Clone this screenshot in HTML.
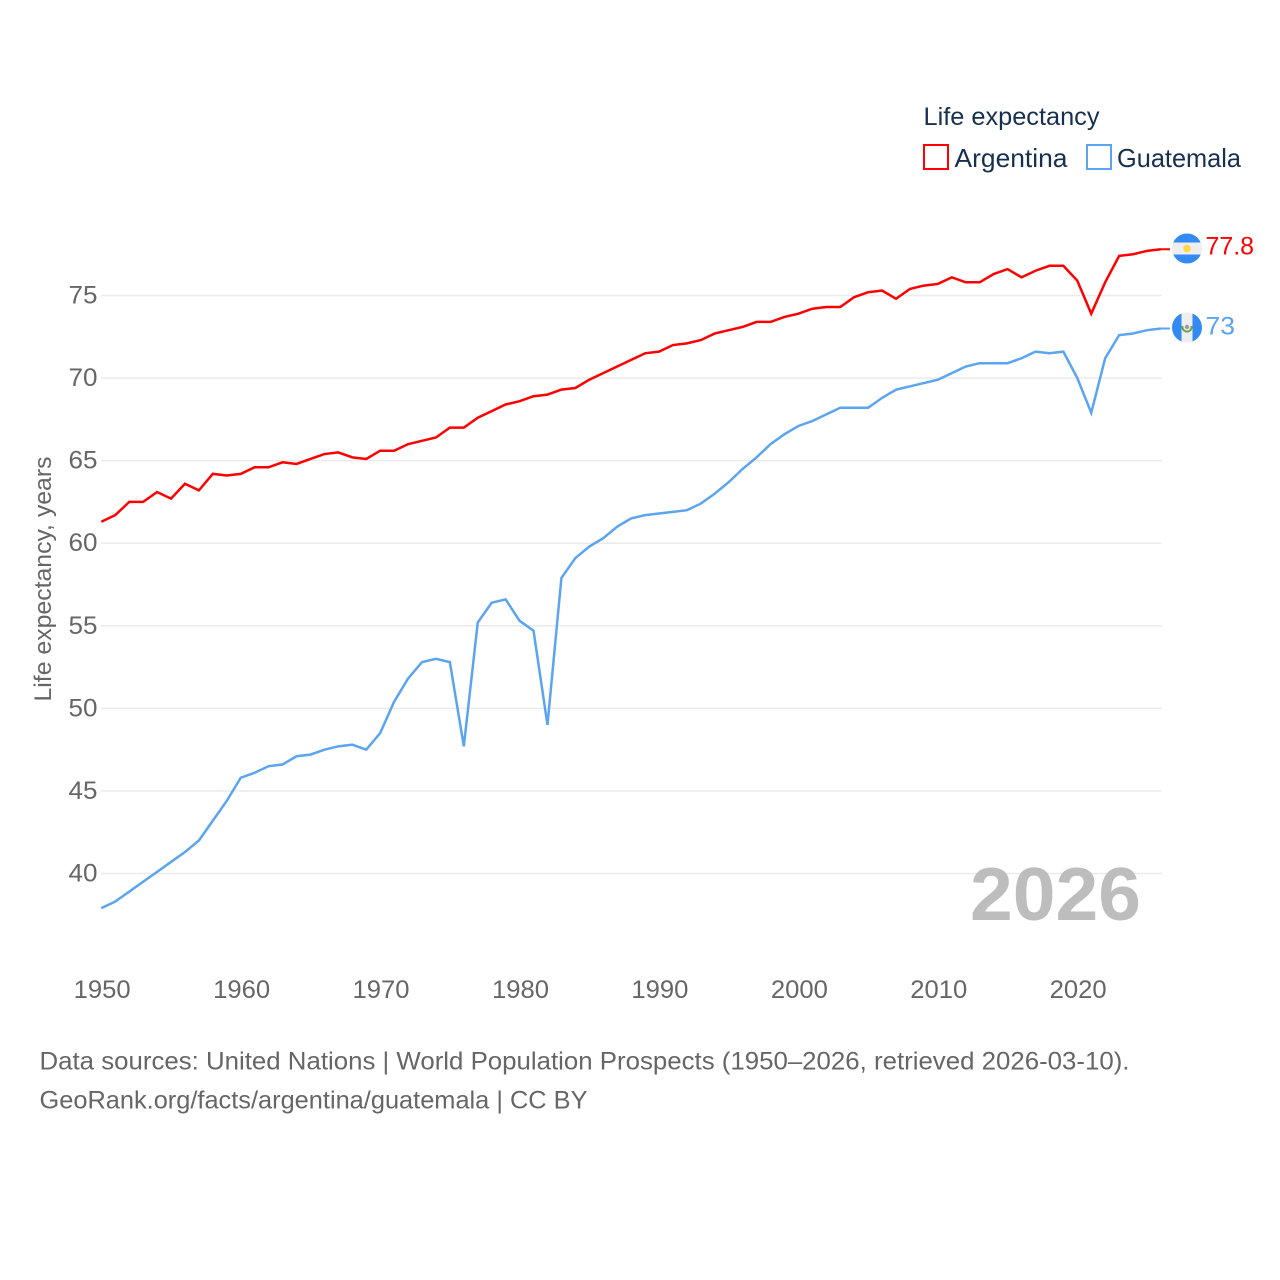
<!DOCTYPE html>
<html lang="en">
<head>
<meta charset="utf-8">
<title>Life expectancy: Argentina vs Guatemala</title>
<style>
html,body{margin:0;padding:0;background:#fff;}
svg{display:block;}
text{font-family:"Liberation Sans",sans-serif;}
</style>
</head>
<body>
<svg id="chart" xmlns="http://www.w3.org/2000/svg" width="1280" height="1280" viewBox="0 0 1280 1280">
  <rect x="0" y="0" width="1280" height="1280" fill="#ffffff"/>
  <g id="grid"></g>
  <g id="yticks"></g>
  <g id="xticks"></g>
  <text transform="translate(51,579) rotate(-90)" text-anchor="middle" font-size="24" fill="#666666" textLength="245" lengthAdjust="spacingAndGlyphs">Life expectancy, years</text>
  <text x="970" y="920" font-size="75" font-weight="700" fill="#bdbdbd" textLength="171" lengthAdjust="spacingAndGlyphs">2026</text>
  <g id="series"></g>

  <g>
    <clipPath id="clip-ar"><circle cx="1187" cy="248.5" r="15"/></clipPath>
    <g clip-path="url(#clip-ar)">
      <rect x="1172" y="233" width="30" height="31" fill="#eeeeee"/>
      <rect x="1172" y="233" width="30" height="9.5" fill="#338af3"/>
      <rect x="1172" y="254.5" width="30" height="9.5" fill="#338af3"/>
      <circle cx="1187" cy="248.5" r="3.8" fill="#ffda44"/>
    </g>
  </g>
  <g>
    <clipPath id="clip-gt"><circle cx="1187" cy="327.5" r="15"/></clipPath>
    <g clip-path="url(#clip-gt)">
      <rect x="1172" y="312" width="30" height="31" fill="#eeeeee"/>
      <rect x="1172" y="312" width="9.5" height="31" fill="#338af3"/>
      <rect x="1192.5" y="312" width="9.5" height="31" fill="#338af3"/>
      <path d="M1182.5 326 A4.6 4.6 0 1 0 1191.5 326" fill="none" stroke="#6da544" stroke-width="2"/>
      <circle cx="1187" cy="327" r="2.2" fill="#9a9a9a"/>
    </g>
  </g>
  <text id="label-ar" x="1205.5" y="254.5" font-size="25" fill="#ff0000" textLength="48.5" lengthAdjust="spacingAndGlyphs"></text>
  <text id="label-gt" x="1205.5" y="334.5" font-size="25" fill="#5ba4f0" textLength="29.5" lengthAdjust="spacingAndGlyphs"></text>

  <g>
    <text x="923.5" y="125" font-size="25" fill="#17304f" textLength="176" lengthAdjust="spacingAndGlyphs">Life expectancy</text>
    <g>
      <rect x="924" y="145" width="24" height="24" fill="#ffffff" stroke="#ff0000" stroke-width="2"/>
      <text x="954.5" y="167" font-size="26" fill="#17304f" textLength="113" lengthAdjust="spacingAndGlyphs">Argentina</text>
    </g>
    <g>
      <rect x="1087" y="145" width="24" height="24" fill="#ffffff" stroke="#5ba4f0" stroke-width="2"/>
      <text x="1117" y="167" font-size="26" fill="#17304f" textLength="124" lengthAdjust="spacingAndGlyphs">Guatemala</text>
    </g>
  </g>

  <text x="39.5" y="1069.5" font-size="25" fill="#666666" textLength="1090" lengthAdjust="spacingAndGlyphs">Data sources: United Nations | World Population Prospects (1950–2026, retrieved 2026-03-10).</text>
  <text x="39.5" y="1108.5" font-size="25" fill="#666666" textLength="548" lengthAdjust="spacingAndGlyphs">GeoRank.org/facts/argentina/guatemala | CC BY</text>
</svg>
<script>
const startYear = 1950;
const argentinaValues = [61.3,61.7,62.5,62.5,63.1,62.7,63.6,63.2,64.2,64.1,64.2,64.6,64.6,64.9,64.8,65.1,65.4,65.5,65.2,65.1,65.6,65.6,66.0,66.2,66.4,67.0,67.0,67.6,68.0,68.4,68.6,68.9,69.0,69.3,69.4,69.9,70.3,70.7,71.1,71.5,71.6,72.0,72.1,72.3,72.7,72.9,73.1,73.4,73.4,73.7,73.9,74.2,74.3,74.3,74.9,75.2,75.3,74.8,75.4,75.6,75.7,76.1,75.8,75.8,76.3,76.6,76.1,76.5,76.8,76.8,75.9,73.9,75.8,77.4,77.5,77.7,77.8];
const guatemalaValues = [37.9,38.3,38.9,39.5,40.1,40.7,41.3,42.0,43.2,44.4,45.8,46.1,46.5,46.6,47.1,47.2,47.5,47.7,47.8,47.5,48.5,50.4,51.8,52.8,53.0,52.8,47.7,55.2,56.4,56.6,55.3,54.7,49.0,57.9,59.1,59.8,60.3,61.0,61.5,61.7,61.8,61.9,62.0,62.4,63.0,63.7,64.5,65.2,66.0,66.6,67.1,67.4,67.8,68.2,68.2,68.2,68.8,69.3,69.5,69.7,69.9,70.3,70.7,70.9,70.9,70.9,71.2,71.6,71.5,71.6,70.0,67.9,71.2,72.6,72.7,72.9,73.0];
const yTickValues = [40,45,50,55,60,65,70,75];
const xTickValues = [1950,1960,1970,1980,1990,2000,2010,2020];
const argentinaEndLabel = "77.8";
const guatemalaEndLabel = "73";

const SVG_NS = "http://www.w3.org/2000/svg";
function xScale(year){ return 101.3 + (year - 1950) * (976 / 70); }
function yScale(value){ return 295.5 + (75 - value) * (578 / 35); }

const gridGroup = document.getElementById("grid");
const yTickGroup = document.getElementById("yticks");
const xTickGroup = document.getElementById("xticks");
const seriesGroup = document.getElementById("series");

yTickValues.forEach(function(tick){
  const line = document.createElementNS(SVG_NS, "line");
  
  
  line.setAttribute("x1", 101);
  line.setAttribute("x2", 1162);
  line.setAttribute("y1", yScale(tick));
  line.setAttribute("y2", yScale(tick));
  line.setAttribute("stroke", "#ebebeb");
  line.setAttribute("stroke-width", "1.5");
  gridGroup.appendChild(line);

  const label = document.createElementNS(SVG_NS, "text");
  
  
  label.setAttribute("x", 97.5);
  label.setAttribute("y", yScale(tick) + 8);
  label.setAttribute("text-anchor", "end");
  label.setAttribute("font-size", "25");
  label.setAttribute("fill", "#666666");
  label.setAttribute("textLength", "29");
  label.setAttribute("lengthAdjust", "spacingAndGlyphs");
  label.textContent = tick;
  yTickGroup.appendChild(label);
});

xTickValues.forEach(function(tick){
  const label = document.createElementNS(SVG_NS, "text");
  
  
  label.setAttribute("x", xScale(tick) + 0.9);
  label.setAttribute("y", 998);
  label.setAttribute("text-anchor", "middle");
  label.setAttribute("font-size", "25");
  label.setAttribute("fill", "#666666");
  label.setAttribute("textLength", "57");
  label.setAttribute("lengthAdjust", "spacingAndGlyphs");
  label.textContent = tick;
  xTickGroup.appendChild(label);
});

function buildPoints(values){
  return values.map(function(v, i){
    return xScale(startYear + i).toFixed(2) + "," + yScale(v).toFixed(2);
  });
}

function drawSeries(values, color, lineName, leaderName){
  const line = document.createElementNS(SVG_NS, "polyline");
  
  
  line.setAttribute("points", buildPoints(values).join(" "));
  line.setAttribute("fill", "none");
  line.setAttribute("stroke", color);
  line.setAttribute("stroke-width", "2.5");
  line.setAttribute("stroke-linejoin", "miter");
  seriesGroup.appendChild(line);

  const lastY = yScale(values[values.length - 1]);
  const leader = document.createElementNS(SVG_NS, "line");
  
  
  leader.setAttribute("x1", xScale(startYear + values.length - 1));
  leader.setAttribute("x2", 1170);
  leader.setAttribute("y1", lastY);
  leader.setAttribute("y2", lastY);
  leader.setAttribute("stroke", color);
  leader.setAttribute("stroke-width", "2");
  seriesGroup.appendChild(leader);
}

drawSeries(argentinaValues, "#ff0000", "argentina-line", "argentina-leader");
drawSeries(guatemalaValues, "#5ba4f0", "guatemala-line", "guatemala-leader");

document.getElementById("label-ar").textContent = argentinaEndLabel;
document.getElementById("label-gt").textContent = guatemalaEndLabel;
</script>
</body>
</html>
